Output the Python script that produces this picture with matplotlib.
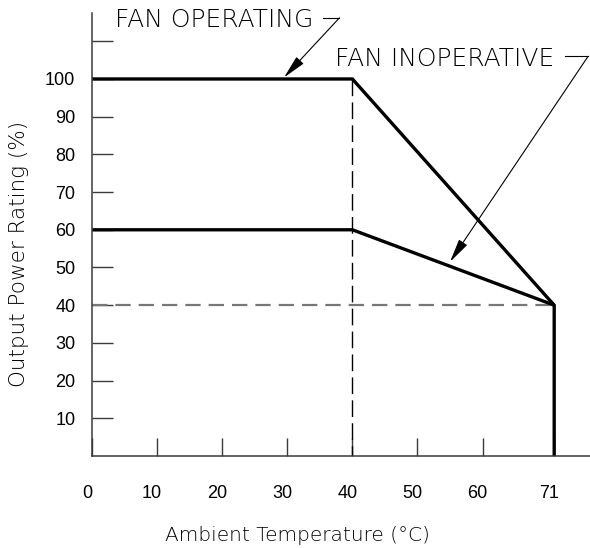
import matplotlib
matplotlib.use("Agg")
import matplotlib.pyplot as plt
from matplotlib.transforms import ScaledTranslation

# ---- data ----
op_x = [0, 40, 71, 71]
op_y = [100, 100, 40, 0]
inop_x = [0, 40, 71]
inop_y = [60, 60, 40]
vdash_x = [40, 40]
vdash_y = [100, 0]
hdash_x = [0, 71]
hdash_y = [40, 40]
xticks = [0, 10, 20, 30, 40, 50, 60, 71]
xticklabels = ["0", "10", "20", "30", "40", "50", "60", "71"]
yticks = [10, 20, 30, 40, 50, 60, 70, 80, 90, 100, 110]
yticklabels = ["10", "20", "30", "40", "50", "60", "70", "80", "90", "100", ""]
label_op = "FAN OPERATING"
label_inop = "FAN INOPERATIVE"
xlabel = "Ambient Temperature (°C)"
ylabel = "Output Power Rating (%)"

W, H = 590, 548
fig = plt.figure(figsize=(W / 100, H / 100), dpi=100)
ax = fig.add_axes([92 / W, 1 - 456 / H, 1 - 92 / W, (456 - 13) / H])
ax.set_xlim(0, 76.5)
ax.set_ylim(0, 117.5)

for s in ("top", "right"):
    ax.spines[s].set_visible(False)
for s in ("left", "bottom"):
    ax.spines[s].set_color("#3a3a3a")
    ax.spines[s].set_linewidth(1.1)

ax.set_xticks(xticks)
ax.set_xticklabels(xticklabels)
ax.set_yticks(yticks)
ax.set_yticklabels(yticklabels)
ax.tick_params(axis="y", direction="in", length=15, width=1.0, color="#3a3a3a",
               pad=12, labelsize=13, labelcolor="black")
ax.tick_params(axis="x", direction="in", length=13.3, width=1.0, color="#3a3a3a",
               pad=21, labelsize=13, labelcolor="black")
for lab in ax.get_xticklabels() + ax.get_yticklabels():
    lab.set_family("Liberation Sans")
off = ScaledTranslation(-5 / 100, 0, fig.dpi_scale_trans)
for lab in ax.get_xticklabels():
    lab.set_transform(lab.get_transform() + off)

# dashed guide lines
ax.plot(vdash_x, vdash_y, color="black", lw=1.0, dashes=(12, 4.5))
ax.plot(hdash_x, hdash_y, color="#777777", lw=1.6, dashes=(6.9, 3.6))

# curves
ax.plot(op_x, op_y, color="black", lw=2.4, solid_joinstyle="miter", solid_capstyle="butt", clip_on=False)
ax.plot(inop_x, inop_y, color="black", lw=2.4, solid_joinstyle="miter", solid_capstyle="butt", clip_on=False)

tfont = dict(family="DejaVu Sans", size=18, color="black", weight="light")
ax.text(3.53, 113.9, label_op, ha="left", va="baseline", clip_on=False, **tfont)
ax.text(37.3, 103.4, label_inop, ha="left", va="baseline", clip_on=False, **tfont)

# leaders
ax.plot([35.5, 38.0], [116.2, 116.2], color="black", lw=0.8, clip_on=False)
ax.plot([72.6, 76.2], [106.0, 106.0], color="black", lw=0.8, clip_on=False)
ap = dict(arrowstyle="-|>,head_length=1.45,head_width=0.3", mutation_scale=10,
          color="black", lw=0.8, shrinkA=0, shrinkB=0)
ax.annotate("", xy=(29.5, 100.4), xytext=(38.0, 116.2), arrowprops=ap, annotation_clip=False)
ax.annotate("", xy=(55.0, 51.5), xytext=(76.2, 106.0), arrowprops=ap, annotation_clip=False)

fig.text(297.5 / W, 1 - 541 / H, xlabel, ha="center", va="baseline",
         family="DejaVu Sans", size=14.5, weight="light")
fig.text(19 / W, 1 - 254 / H, ylabel, ha="center", va="center", rotation=90,
         family="DejaVu Sans", size=15.5, weight="light")

fig.savefig("out.png", dpi=100)
